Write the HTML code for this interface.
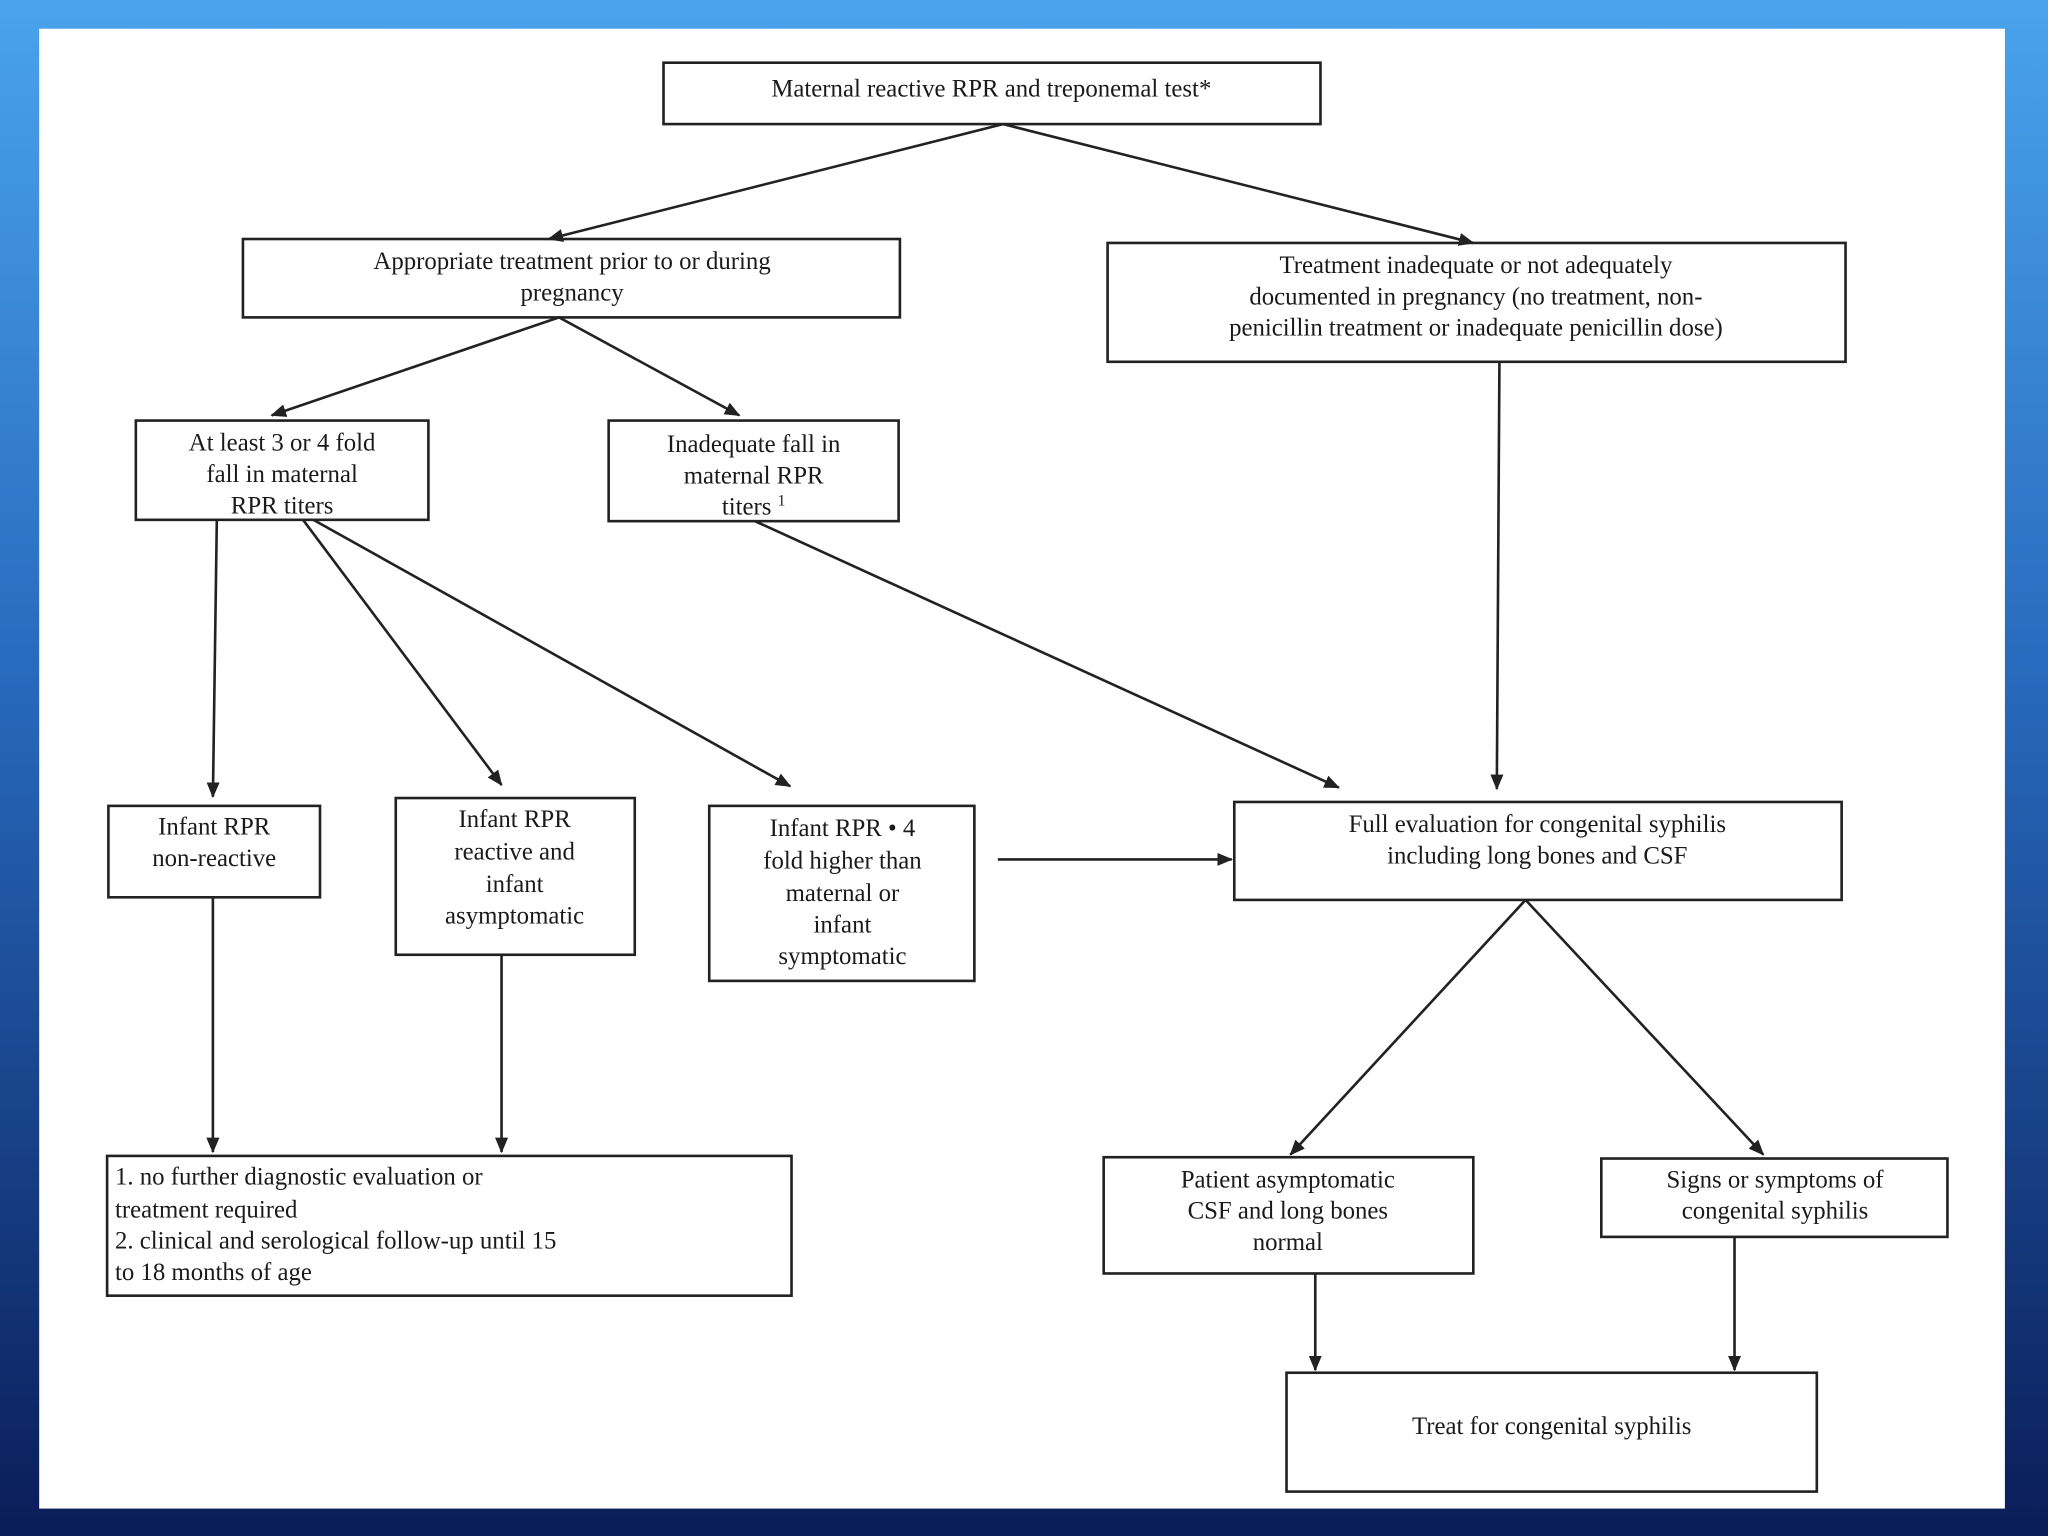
<!DOCTYPE html>
<html><head><meta charset="utf-8">
<style>
html,body{margin:0;padding:0;width:2048px;height:1536px;overflow:hidden;}
body{background:linear-gradient(180deg,#4aa3ec 0%,#2a6fc0 40%,#123a8a 80%,#0a1e5a 100%);}
svg{display:block}
text{font-family:"Liberation Serif",serif;font-size:19px;fill:#1a1a1a;}
</style></head><body>
<svg width="2048" height="1536" viewBox="0 0 1568 1176" xmlns="http://www.w3.org/2000/svg">
<defs>
<marker id="a" markerWidth="12" markerHeight="10" refX="11" refY="5" orient="auto" markerUnits="userSpaceOnUse">
<path d="M0,0 L12,5 L0,10 Z" fill="#222"/></marker>
<linearGradient id="bg" x1="0" y1="0" x2="0" y2="1">
<stop offset="0" stop-color="#4aa3ec"/><stop offset="0.45" stop-color="#2768bb"/><stop offset="1" stop-color="#0a1d58"/></linearGradient>
</defs>
<rect x="0" y="0" width="1568" height="1176" fill="url(#bg)"/>
<rect x="30" y="22" width="1505" height="1133" fill="#fff"/>
<g fill="none" stroke="#222" stroke-width="2">
<rect x="508" y="48" width="503" height="47"/>
<rect x="186" y="183" width="503" height="60"/>
<rect x="848" y="186" width="565" height="91"/>
<rect x="104" y="322" width="224" height="76"/>
<rect x="466" y="322" width="222" height="77"/>
<rect x="83" y="617" width="162" height="70"/>
<rect x="303" y="611" width="183" height="120"/>
<rect x="543" y="617" width="203" height="134"/>
<rect x="945" y="614" width="465" height="75"/>
<rect x="82" y="885" width="524" height="107"/>
<rect x="845" y="886" width="283" height="89"/>
<rect x="1226" y="887" width="265" height="60"/>
<rect x="985" y="1051" width="406" height="91"/>
</g>
<g stroke="#222" stroke-width="2" marker-end="url(#a)">
<line x1="768" y1="95" x2="420" y2="183"/>
<line x1="768" y1="95" x2="1128" y2="186"/>
<line x1="428" y1="243" x2="208" y2="318"/>
<line x1="428" y1="243" x2="566" y2="318"/>
<line x1="166" y1="398" x2="163" y2="610"/>
<line x1="232" y1="398" x2="384" y2="601"/>
<line x1="240" y1="398" x2="605" y2="602"/>
<line x1="578" y1="399" x2="1025" y2="603"/>
<line x1="1148" y1="277" x2="1146" y2="604"/>
<line x1="764" y1="658" x2="943" y2="658"/>
<line x1="163" y1="687" x2="163" y2="882"/>
<line x1="384" y1="731" x2="384" y2="882"/>
<line x1="1168" y1="689" x2="988" y2="884"/>
<line x1="1168" y1="689" x2="1350" y2="884"/>
<line x1="1007" y1="975" x2="1007" y2="1049"/>
<line x1="1328" y1="947" x2="1328" y2="1049"/>
</g>
<g text-anchor="middle">
<text x="759" y="74">Maternal reactive RPR and treponemal test*</text>
<text x="438" y="206">Appropriate treatment prior to or during</text>
<text x="438" y="230">pregnancy</text>
<text x="1130" y="209">Treatment inadequate or not adequately</text>
<text x="1130" y="233">documented in pregnancy (no treatment, non-</text>
<text x="1130" y="257">penicillin treatment or inadequate penicillin dose)</text>
<text x="216" y="345">At least 3 or 4 fold</text>
<text x="216" y="369">fall in maternal</text>
<text x="216" y="393">RPR titers</text>
<text x="577" y="346">Inadequate fall in</text>
<text x="577" y="370">maternal RPR</text>
<text x="577" y="394">titers <tspan font-size="12" dy="-7">1</tspan></text>
<text x="164" y="639">Infant RPR</text>
<text x="164" y="663">non-reactive</text>
<text x="394" y="633">Infant RPR</text>
<text x="394" y="658">reactive and</text>
<text x="394" y="683">infant</text>
<text x="394" y="707">asymptomatic</text>
<text x="645" y="640">Infant RPR • 4</text>
<text x="645" y="665">fold higher than</text>
<text x="645" y="690">maternal or</text>
<text x="645" y="714">infant</text>
<text x="645" y="738">symptomatic</text>
<text x="1177" y="637">Full evaluation for congenital syphilis</text>
<text x="1177" y="661">including long bones and CSF</text>
<text x="986" y="909">Patient asymptomatic</text>
<text x="986" y="933">CSF and long bones</text>
<text x="986" y="957">normal</text>
<text x="1359" y="909">Signs or symptoms of</text>
<text x="1359" y="933">congenital syphilis</text>
<text x="1188" y="1098">Treat for congenital syphilis</text>
</g>
<g>
<text x="88" y="907">1. no further diagnostic evaluation or</text>
<text x="88" y="932">treatment  required</text>
<text x="88" y="956">2. clinical and serological follow-up until 15</text>
<text x="88" y="980">to 18 months of age</text>
</g>
</svg>
</body></html>
